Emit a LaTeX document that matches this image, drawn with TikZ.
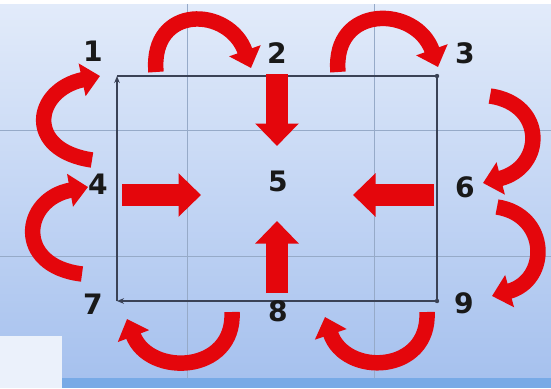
\documentclass[tikz,border=0pt]{standalone}
\usepackage{fontspec}
\newfontfamily\digitfont{DejaVu Sans}
\usepackage{tikz}
\usetikzlibrary{arrows.meta,calc}
\definecolor{arrowred}{RGB}{228,6,12}
\definecolor{framegray}{RGB}{58,66,86}
\definecolor{gridblue}{RGB}{150,170,200}
\definecolor{bgtop}{RGB}{226,235,250}
\definecolor{bgbottom}{RGB}{166,193,238}
\definecolor{stripblue}{RGB}{120,170,230}

\begin{document}
\begin{tikzpicture}[x=0.025cm,y=-0.025cm,
    lbl/.style={font=\digitfont\bfseries\fontsize{20}{24}\selectfont,text=black!90},
    curl/.style={arrowred,line width=11pt,-{Triangle[width=23pt,length=13pt]}},
    block/.style={arrowred,line width=15pt,-{Triangle[width=30pt,length=16pt]}},
    frame/.style={framegray,line width=1.3pt},
    grid line/.style={gridblue,line width=0.6pt}]
    \useasboundingbox (0,0) rectangle (551,388);
    %Background
    \fill[white] (0,0) rectangle (551,388);
    \shade[top color=bgtop,bottom color=bgbottom] (0,4) rectangle (551,378);
    \fill[stripblue] (62,378) rectangle (551,388);
    \fill[bgtop!70!white] (0,336) rectangle (62,388);
    %Grid
    \draw[grid line] (187,4) -- (187,378);
    \draw[grid line] (374,4) -- (374,378);
    \draw[grid line] (0,130) -- (551,130);
    \draw[grid line] (0,256) -- (551,256);
    %Frame corners
    \coordinate (p1) at (117,76);
    \coordinate (p3) at (437,76);
    \coordinate (p7) at (117,301);
    \coordinate (p9) at (437,301);
    \draw[frame,-{Stealth[length=5pt,width=4pt]}] (p7) -- (p1);
    \draw[frame,-{Stealth[length=5pt,width=4pt]}] (p9) -- (p7);
    \draw[frame] (p1) -- (p3) -- (p9);
    \fill[framegray] (p3) circle (2.2);
    \fill[framegray] (p9) circle (2.2);
    %Labels
    \node[lbl] (n1) at (93,51) {1};
    \node[lbl] (n2) at (277,53) {2};
    \node[lbl] (n3) at (465,53) {3};
    \node[lbl] (n4) at (98,184) {4};
    \node[lbl] (n5) at (278,181) {5};
    \node[lbl] (n6) at (465,187) {6};
    \node[lbl] (n7) at (93,304) {7};
    \node[lbl] (n8) at (278,311) {8};
    \node[lbl] (n9) at (464,303) {9};
    %Arrow ends
    \coordinate (a12) at (156,72);  \coordinate (b12) at (251,68);
    \coordinate (a23) at (338,72);  \coordinate (b23) at (438,67);
    \coordinate (a36) at (490,96);  \coordinate (b36) at (483,183);
    \coordinate (a69) at (497,207); \coordinate (b69) at (492,296);
    \coordinate (a41) at (92,160);  \coordinate (b41) at (100,76);
    \coordinate (a74) at (82,274);  \coordinate (b74) at (88,187);
    \coordinate (a98) at (427,312); \coordinate (b98) at (325,317);
    \coordinate (a87) at (232,312); \coordinate (b87) at (127,319);
    \coordinate (a25) at (277,74);  \coordinate (b25) at (277,146);
    \coordinate (a45) at (122,195); \coordinate (b45) at (201,195);
    \coordinate (a65) at (434,195); \coordinate (b65) at (353,195);
    \coordinate (a85) at (277,293); \coordinate (b85) at (277,221);
    %Curved arrows
    \draw[curl] (a12) .. controls +(-6,-68) and +(-22,-62) .. (b12);
    \draw[curl] (a23) .. controls +(-6,-68) and +(-22,-62) .. (b23);
    \draw[curl] (a36) .. controls +(56,8) and +(62,-16) .. (b36);
    \draw[curl] (a69) .. controls +(52,8) and +(58,-16) .. (b69);
    \draw[curl] (a41) .. controls +(-68,-10) and +(-66,14) .. (b41);
    \draw[curl] (a74) .. controls +(-68,-8) and +(-66,12) .. (b74);
    \draw[curl] (a98) .. controls +(3,62) and +(20,60) .. (b98);
    \draw[curl] (a87) .. controls +(3,62) and +(22,58) .. (b87);
    %Straight arrows
    \draw[block] (a25) -- (b25);
    \draw[block] (a45) -- (b45);
    \draw[block] (a65) -- (b65);
    \draw[block] (a85) -- (b85);
\end{tikzpicture}
\end{document}
